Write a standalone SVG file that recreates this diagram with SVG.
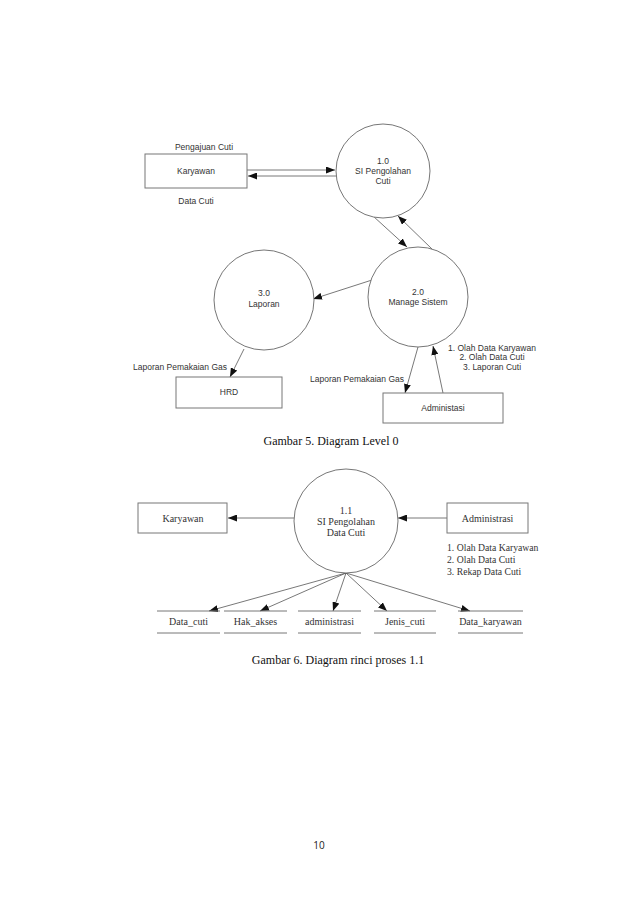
<svg xmlns="http://www.w3.org/2000/svg" width="638" height="903" viewBox="0 0 638 903">
<style>
.box{fill:#fff;stroke:#777;stroke-width:1}
.proc{fill:#fff;stroke:#666;stroke-width:0.9}
.ln{fill:none;stroke:#555;stroke-width:0.8}
.ds{stroke:#777;stroke-width:1}
.sans{font-family:"Liberation Sans",Arial,sans-serif;font-size:8.5px;fill:#333}
.serif{font-family:"Liberation Serif","Times New Roman",serif;font-size:10px;fill:#333}
.lst{font-size:9.7px}
.cap{font-family:"Liberation Serif","Times New Roman",serif;font-size:12px;fill:#111}
.c{text-anchor:middle}
</style>
<defs>
<marker id="ah" markerWidth="9" markerHeight="7" refX="9" refY="3.5" orient="auto" markerUnits="userSpaceOnUse">
<path d="M0,0 L9,3.5 L0,7 z" fill="#111"/>
</marker>
</defs>
<rect width="638" height="903" fill="#fff"/>

<g id="connectors">
<line class="ln" x1="247" y1="170" x2="335" y2="170" marker-end="url(#ah)"/>
<line class="ln" x1="336" y1="176" x2="248" y2="176" marker-end="url(#ah)"/>
<line class="ln" x1="373" y1="216" x2="407" y2="247" marker-end="url(#ah)"/>
<line class="ln" x1="432" y1="249" x2="398" y2="216" marker-end="url(#ah)"/>
<line class="ln" x1="372" y1="280" x2="313" y2="299" marker-end="url(#ah)"/>
<line class="ln" x1="244" y1="349" x2="230" y2="377" marker-end="url(#ah)"/>
<line class="ln" x1="418" y1="347" x2="405" y2="393" marker-end="url(#ah)"/>
<line class="ln" x1="443" y1="393" x2="433" y2="346" marker-end="url(#ah)"/>

<line class="ln" x1="294" y1="518" x2="228" y2="518" marker-end="url(#ah)"/>
<line class="ln" x1="447" y1="518" x2="398" y2="518" marker-end="url(#ah)"/>
<line class="ln" x1="346" y1="573" x2="209" y2="611" marker-end="url(#ah)"/>
<line class="ln" x1="346" y1="573" x2="260" y2="611" marker-end="url(#ah)"/>
<line class="ln" x1="346" y1="573" x2="333" y2="611" marker-end="url(#ah)"/>
<line class="ln" x1="346" y1="573" x2="387" y2="611" marker-end="url(#ah)"/>
<line class="ln" x1="346" y1="573" x2="470" y2="611" marker-end="url(#ah)"/>
</g>

<g id="karyawan-top">
<rect class="box" x="145" y="154" width="102" height="34"/>
<text class="sans c" x="196" y="174">Karyawan</text>
</g>
<g id="p1-0">
<circle class="proc" cx="383" cy="171" r="47"/>
<text class="sans c" x="383" y="164">1.0</text>
<text class="sans c" x="383" y="174">SI Pengolahan</text>
<text class="sans c" x="383" y="184">Cuti</text>
</g>
<g id="p2-0">
<circle class="proc" cx="418" cy="297" r="50"/>
<text class="sans c" x="418" y="295">2.0</text>
<text class="sans c" x="418" y="305">Manage Sistem</text>
</g>
<g id="p3-0">
<circle class="proc" cx="264" cy="300" r="50"/>
<text class="sans c" x="264" y="296">3.0</text>
<text class="sans c" x="264" y="307">Laporan</text>
</g>
<g id="hrd">
<rect class="box" x="176" y="377" width="106" height="31"/>
<text class="sans c" x="229" y="395">HRD</text>
</g>
<g id="administasi">
<rect class="box" x="383" y="393" width="120" height="30"/>
<text class="sans c" x="443" y="411">Administasi</text>
</g>
<g id="labels-top">
<text class="sans c" x="204" y="150">Pengajuan Cuti</text>
<text class="sans c" x="196" y="204">Data Cuti</text>
<text class="sans c" x="180" y="370">Laporan Pemakaian Gas</text>
<text class="sans c" x="357" y="382">Laporan Pemakaian Gas</text>
<text class="sans c" x="492" y="351">1. Olah Data Karyawan</text>
<text class="sans c" x="492" y="360">2. Olah Data Cuti</text>
<text class="sans c" x="492" y="370">3. Laporan Cuti</text>
</g>
<text class="cap c" x="331" y="445">Gambar 5. Diagram Level 0</text>

<g id="karyawan-bot">
<rect class="box" x="138" y="503" width="89" height="30"/>
<text class="serif c" x="183" y="522">Karyawan</text>
</g>
<g id="p1-1">
<circle class="proc" cx="346" cy="521" r="52"/>
<text class="serif c" x="346" y="514">1.1</text>
<text class="serif c" x="346" y="525">SI Pengolahan</text>
<text class="serif c" x="346" y="536">Data Cuti</text>
</g>
<g id="administrasi">
<rect class="box" x="447" y="503" width="81" height="30"/>
<text class="serif c" x="487.5" y="522">Administrasi</text>
</g>
<g id="labels-bot">
<text class="serif lst" x="447" y="551">1. Olah Data Karyawan</text>
<text class="serif lst" x="447" y="563">2. Olah Data Cuti</text>
<text class="serif lst" x="447" y="575">3. Rekap Data Cuti</text>
</g>
<g id="ds-data-cuti">
<line class="ds" x1="157" y1="611" x2="220" y2="611"/>
<line class="ds" x1="157" y1="633" x2="220" y2="633"/>
<text class="serif c" x="188.5" y="625">Data_cuti</text>
</g>
<g id="ds-hak-akses">
<line class="ds" x1="224" y1="611" x2="287" y2="611"/>
<line class="ds" x1="224" y1="633" x2="287" y2="633"/>
<text class="serif c" x="255.5" y="625">Hak_akses</text>
</g>
<g id="ds-administrasi">
<line class="ds" x1="298" y1="611" x2="361" y2="611"/>
<line class="ds" x1="298" y1="633" x2="361" y2="633"/>
<text class="serif c" x="329.5" y="625">administrasi</text>
</g>
<g id="ds-jenis-cuti">
<line class="ds" x1="374" y1="611" x2="436" y2="611"/>
<line class="ds" x1="374" y1="633" x2="436" y2="633"/>
<text class="serif c" x="405" y="625">Jenis_cuti</text>
</g>
<g id="ds-data-karyawan">
<line class="ds" x1="458" y1="611" x2="523" y2="611"/>
<line class="ds" x1="458" y1="633" x2="523" y2="633"/>
<text class="serif c" x="490.5" y="625">Data_karyawan</text>
</g>
<text class="cap c" x="338" y="664">Gambar 6. Diagram rinci proses 1.1</text>
<text x="319" y="849" text-anchor="middle" font-family="'Open Sans','Liberation Sans',sans-serif" font-size="10" fill="#222">10</text>
</svg>
